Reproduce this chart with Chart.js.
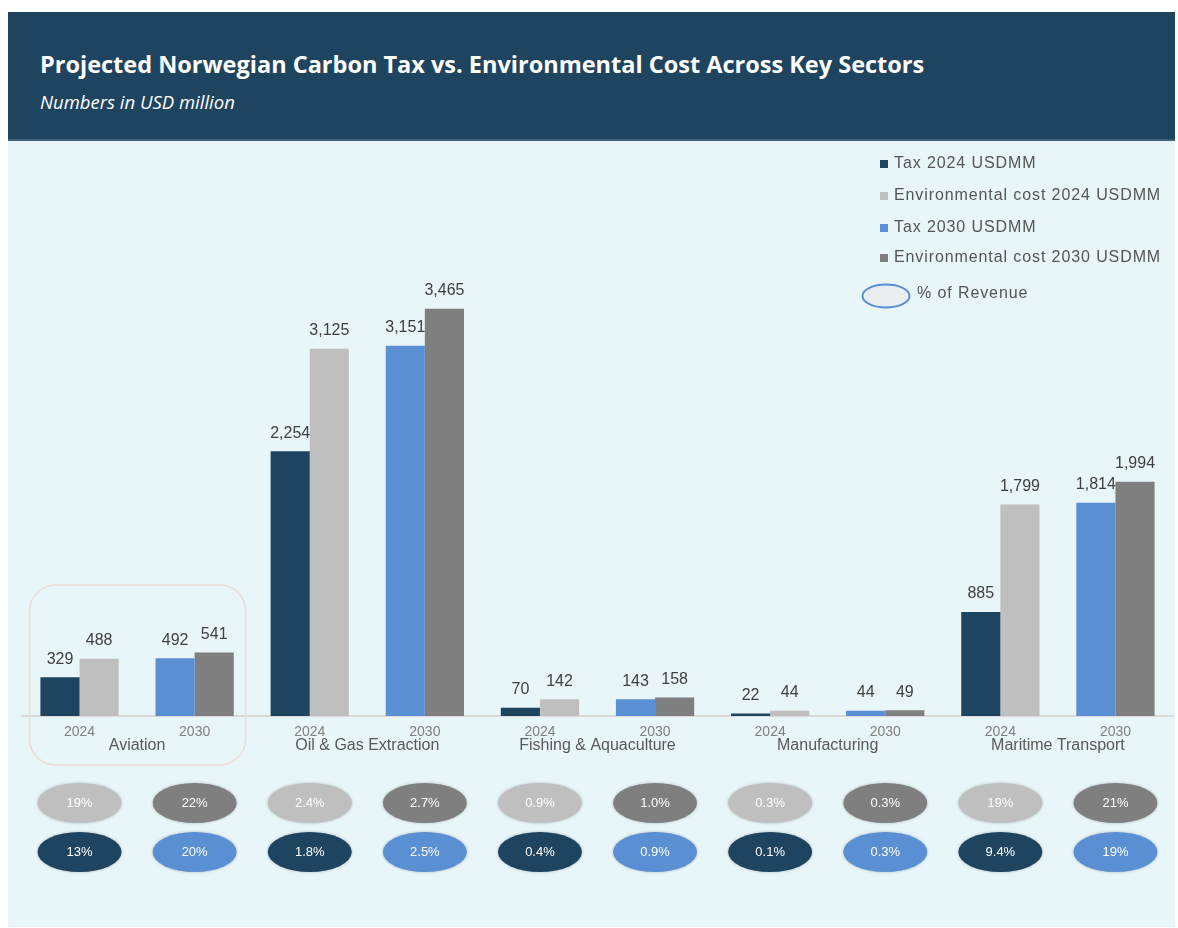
<!DOCTYPE html>
<html>
<head>
<meta charset="utf-8">
<script src="https://cdn.jsdelivr.net/npm/chart.js@4"></script>
<style>
  body { margin: 0; background: #ffffff; }
  #panel { position: absolute; left: 8px; top: 12px; width: 1167px; height: 915px; background: #e8f5f9; }
  #header { position: absolute; left: 0; top: 0; width: 1167px; height: 127px; background: #1f4460; border-bottom: 2px solid #3d6079; }
  #title { position: absolute; left: 32px; top: 36px; color: #ffffff; font: bold 23.5px "Open Sans", sans-serif; }
  #subtitle { position: absolute; left: 32px; top: 77px; color: #ffffff; font: italic 18.5px "Open Sans", sans-serif; }
  #chart { position: absolute; left: 0; top: 0; }
</style>
</head>
<body>
<div id="panel">
  <div id="header">
    <div id="title">Projected Norwegian Carbon Tax vs. Environmental Cost Across Key Sectors</div>
    <div id="subtitle">Numbers in USD million</div>
  </div>
</div>
<canvas id="chart" width="1178" height="928"></canvas>
<script>
// sectors and the two years shown for each
const sectors = ['Aviation', 'Oil & Gas Extraction', 'Fishing & Aquaculture', 'Manufacturing', 'Maritime Transport'];
const years = ['2024', '2030'];

// USD million
const tax2024 = [329, 2254, 70, 22, 885];
const env2024 = [488, 3125, 142, 44, 1799];
const tax2030 = [492, 3151, 143, 44, 1814];
const env2030 = [541, 3465, 158, 49, 1994];

// % of revenue
const envShare2024 = ['19%', '2.4%', '0.9%', '0.3%', '19%'];
const envShare2030 = ['22%', '2.7%', '1.0%', '0.3%', '21%'];
const taxShare2024 = ['13%', '1.8%', '0.4%', '0.1%', '9.4%'];
const taxShare2030 = ['20%', '2.5%', '0.9%', '0.3%', '19%'];

const NAVY = '#1f4460', LIGHT = '#bfbfbf', BLUE = '#5b8fd4', DARK = '#7f7f7f';
const FONT = '"Liberation Sans", Arial, sans-serif';

// one x slot per sector/year pair
const labels = [];
sectors.forEach(() => years.forEach(y => labels.push(y)));

// spread a per-sector array onto the year slots (other year = null)
function spread(arr, yearIdx) {
    const out = [];
    arr.forEach(v => { years.forEach((y, i) => out.push(i === yearIdx ? v : null)); });
    return out;
}

const datasets = [
    { label: 'Tax 2024 USDMM', data: spread(tax2024, 0), backgroundColor: NAVY, stack: 'tax', share: spread(taxShare2024, 0) },
    { label: 'Environmental cost 2024 USDMM', data: spread(env2024, 0), backgroundColor: LIGHT, stack: 'env', share: spread(envShare2024, 0) },
    { label: 'Tax 2030 USDMM', data: spread(tax2030, 1), backgroundColor: BLUE, stack: 'tax', share: spread(taxShare2030, 1) },
    { label: 'Environmental cost 2030 USDMM', data: spread(env2030, 1), backgroundColor: DARK, stack: 'env', share: spread(envShare2030, 1) }
];

// value labels above bars
const valueLabels = {
    id: 'valueLabels',
    afterDatasetsDraw(chart) {
        const ctx = chart.ctx;
        ctx.save();
        ctx.font = '16px ' + FONT;
        ctx.fillStyle = '#404040';
        ctx.textAlign = 'center';
        ctx.textBaseline = 'middle';
        chart.data.datasets.forEach((ds, i) => {
            chart.getDatasetMeta(i).data.forEach((bar, j) => {
                const v = ds.data[j];
                if (v == null) return;
                ctx.fillText(v.toLocaleString('en-US'), bar.x, bar.y - 18);
            });
        });
        ctx.restore();
    }
};

// sector names, the rounded box round Aviation, revenue ellipses, legend
const extras = {
    id: 'extras',
    afterDraw(chart) {
        const ctx = chart.ctx;
        const x = chart.scales.x;
        ctx.save();

        // sector names under the year ticks
        ctx.font = '16px ' + FONT;
        ctx.fillStyle = '#595959';
        ctx.textAlign = 'center';
        ctx.textBaseline = 'middle';
        sectors.forEach((s, i) => {
            const cx = (x.getPixelForValue(i * 2) + x.getPixelForValue(i * 2 + 1)) / 2;
            ctx.fillText(s, cx, 746);
        });

        // highlight box
        const bx0 = x.getPixelForValue(0) - 50, bx1 = x.getPixelForValue(1) + 51;
        ctx.beginPath();
        ctx.roundRect(bx0, 585, bx1 - bx0, 180, 26);
        ctx.strokeStyle = '#eadcd6';
        ctx.lineWidth = 1.5;
        ctx.stroke();

        // % of revenue ellipses: env cost on top, tax below
        ctx.font = '13px ' + FONT;
        const rows = [
            { y: 803, sets: [1, 3] },
            { y: 852, sets: [0, 2] }
        ];
        rows.forEach(row => {
            row.sets.forEach(di => {
                const ds = chart.data.datasets[di];
                ds.share.forEach((txt, j) => {
                    if (txt == null) return;
                    const cx = x.getPixelForValue(j);
                    ctx.beginPath();
                    ctx.ellipse(cx, row.y, 42, 20, 0, 0, Math.PI * 2);
                    ctx.fillStyle = ds.backgroundColor;
                    ctx.shadowColor = 'rgba(0,0,0,0.25)';
                    ctx.shadowBlur = 3;
                    ctx.fill();
                    ctx.shadowColor = 'transparent';
                    ctx.fillStyle = '#ffffff';
                    ctx.fillText(txt, cx, row.y);
                });
            });
        });

        // legend
        ctx.textAlign = 'left';
        ctx.font = '16px ' + FONT;
        ctx.letterSpacing = '0.9px';
        const ly = [164, 196, 228, 258];
        chart.data.datasets.forEach((ds, i) => {
            ctx.fillStyle = ds.backgroundColor;
            ctx.fillRect(880, ly[i] - 4, 8, 8);
            ctx.fillStyle = '#555555';
            ctx.fillText(ds.label, 894, ly[i]);
        });
        ctx.beginPath();
        ctx.ellipse(886, 296, 23.5, 11.5, 0, 0, Math.PI * 2);
        ctx.fillStyle = '#eaeef1';
        ctx.fill();
        ctx.strokeStyle = '#5b8fd4';
        ctx.lineWidth = 2;
        ctx.stroke();
        ctx.fillStyle = '#555555';
        ctx.fillText('% of Revenue', 917, 294);

        ctx.restore();
    }
};

new Chart(document.getElementById('chart'), {
    type: 'bar',
    data: { labels: labels, datasets: datasets },
    options: {
        responsive: false,
        animation: false,
        categoryPercentage: 0.68,
        barPercentage: 1.0,
        layout: { padding: { left: 22, right: 5, top: 246, bottom: 0 } },
        plugins: { legend: { display: false }, tooltip: { enabled: false } },
        scales: {
            x: {
                stacked: true,
                grid: { display: false },
                border: { display: true, color: '#d9d9d9', width: 2 },
                ticks: { color: '#808080', font: { family: FONT, size: 14 }, padding: 0 },
                afterFit(s) { s.height = 212; }
            },
            y: {
                stacked: true,
                display: false,
                min: 0,
                max: 4000
            }
        }
    },
    plugins: [valueLabels, extras]
});
</script>
</body>
</html>
